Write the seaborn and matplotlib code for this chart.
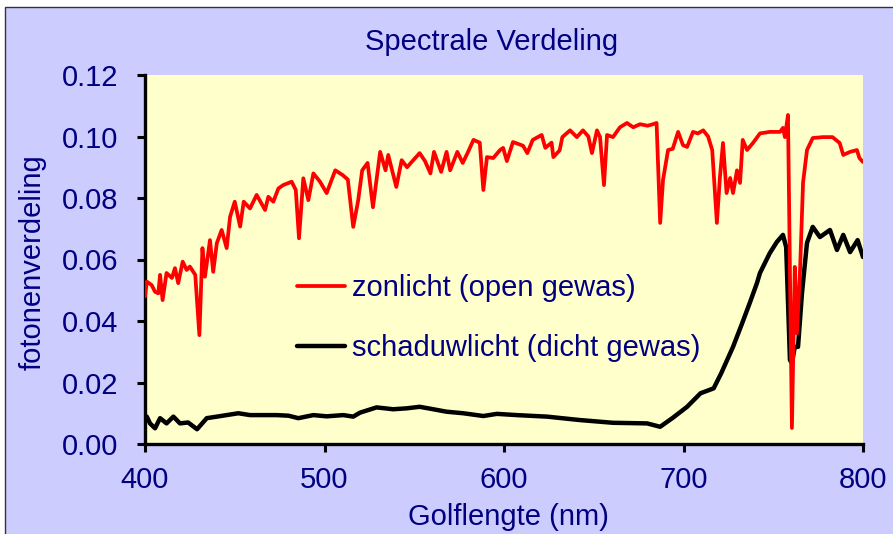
import matplotlib
matplotlib.use("Agg")
import matplotlib.pyplot as plt
import seaborn as sns
import pandas as pd
from matplotlib.patches import Rectangle

# ---- data ----
zon_nm = [400, 401, 403.7, 405.6, 407.4, 408.4, 409.8, 412, 415, 416.7, 418.5, 421, 423.2, 425, 428,
          430.3, 432, 433.4, 436.2, 438, 440, 442.7, 445.5, 447.4, 450, 453, 455, 458.5, 462.2, 466.9,
          468.7, 471.5, 474.3, 477, 481.7, 484, 485.8, 488.2, 491, 493.8, 497.5, 501.2, 506, 510, 513,
          516, 518.7, 521, 524, 527, 531, 534, 535.5, 540, 543, 546, 549, 553, 556, 559, 561, 565, 568,
          570, 574, 577, 580, 583, 586.5, 588.5, 590.5, 594, 597.8, 599.5, 601.6, 605, 610.6, 613, 616,
          621, 623, 626.5, 627.5, 631, 632.5, 636.8, 640.6, 644, 647, 649, 651.8, 653.5, 655.7, 657.4,
          660.7, 664.6, 668.5, 672, 675.8, 680, 683, 685, 687, 688.6, 691.4, 694, 697, 699.7, 702, 705.3,
          708, 711, 713.7, 716, 718.6, 720.3, 722, 724, 726, 727.6, 729.8, 731.5, 733, 735.4, 738.7,
          742.6, 748, 753.8, 755.4, 756.5, 758.2, 760.4, 762, 763.2, 765, 766.6, 768.8, 772, 777.7, 783,
          787, 789, 792.8, 796.6, 798, 800]
zon_val = [0.048, 0.0528, 0.0517, 0.0495, 0.049, 0.055, 0.0468, 0.0556, 0.054, 0.0572, 0.0523, 0.0593,
           0.0566, 0.0577, 0.055, 0.0354, 0.0637, 0.0544, 0.0663, 0.056, 0.0653, 0.0696, 0.0637, 0.0739,
           0.0788, 0.0707, 0.0788, 0.0766, 0.081, 0.0761, 0.0804, 0.0788, 0.0831, 0.0842, 0.0853, 0.0826,
           0.0669, 0.0864, 0.0793, 0.088, 0.0853, 0.0816, 0.089, 0.0875, 0.086, 0.0706, 0.079, 0.089,
           0.0914, 0.077, 0.095, 0.089, 0.094, 0.0836, 0.0923, 0.090, 0.092, 0.0946, 0.092, 0.088, 0.095,
           0.0885, 0.095, 0.089, 0.095, 0.0914, 0.095, 0.0989, 0.098, 0.0826, 0.0933, 0.093, 0.0956,
           0.0963, 0.092, 0.0982, 0.097, 0.0946, 0.0989, 0.1005, 0.0963, 0.098, 0.0933, 0.0955, 0.0998,
           0.102, 0.0998, 0.102, 0.100, 0.0946, 0.102, 0.0998, 0.0842, 0.1005, 0.0998, 0.103, 0.1044,
           0.103, 0.104, 0.1035, 0.104, 0.1044, 0.0719, 0.0859, 0.0956, 0.096, 0.1015, 0.0972, 0.0966,
           0.1015, 0.101, 0.102, 0.100, 0.0956, 0.0719, 0.0868, 0.0979, 0.0816, 0.0865, 0.0816, 0.089,
           0.0849, 0.0989, 0.0956, 0.0979, 0.101, 0.1015, 0.1015, 0.1028, 0.0998, 0.107, 0.0052, 0.0576,
           0.036, 0.0576, 0.085, 0.0956, 0.0995, 0.0998, 0.0998, 0.0979, 0.094, 0.095, 0.0956, 0.093,
           0.0917]

schaduw_nm = [400, 401, 402.8, 405.6, 408.4, 412, 415.8, 419.5, 424, 429, 434.4, 440, 445.5, 452, 458.5,
              466, 473.4, 480, 485.4, 493.8, 501.2, 510.5, 516, 519.8, 529, 538.3, 545.8, 553, 560.6, 568,
              577.3, 588.5, 596, 607, 624, 642, 660.7, 679.7, 687, 694, 702, 709.5, 716.8, 721, 727.6,
              732.5, 737, 740.9, 742.6, 748, 752, 755.4, 757.2, 759.3, 760.4, 762, 763.8, 766, 768.8, 772,
              776, 781.6, 785.5, 789, 792.8, 797, 800]
schaduw_val = [0.0075, 0.0089, 0.0067, 0.0051, 0.0084, 0.0067, 0.0089, 0.0067, 0.007, 0.0048, 0.0084,
               0.0089, 0.0094, 0.010, 0.0094, 0.0094, 0.0094, 0.0092, 0.0084, 0.0094, 0.009, 0.0094, 0.0089,
               0.0102, 0.0119, 0.0113, 0.0116, 0.0121, 0.0113, 0.0105, 0.010, 0.0091, 0.0098, 0.0094,
               0.0089, 0.0078, 0.0069, 0.0067, 0.0056, 0.0085, 0.0121, 0.0165, 0.0181, 0.023, 0.0316,
               0.039, 0.046, 0.0523, 0.0556, 0.062, 0.0657, 0.068, 0.064, 0.0273, 0.0263, 0.0316, 0.0316,
               0.049, 0.0654, 0.0706, 0.0673, 0.0696, 0.0631, 0.068, 0.0624, 0.0663, 0.0608]

labels = ["zonlicht (open gewas)", "schaduwlicht (dicht gewas)"]
x_ticks = [400, 500, 600, 700, 800]
y_ticks = [0.00, 0.02, 0.04, 0.06, 0.08, 0.10, 0.12]
title = "Spectrale Verdeling"
xlabel = "Golflengte (nm)"
ylabel = "fotonenverdeling"

# ---- styling ----
sns.set_style("ticks")
plt.rcParams['font.family'] = ['Liberation Sans', 'DejaVu Sans']
navy = "#000080"
FS = 21

W, H = 893, 534
fig = plt.figure(figsize=(W / 100, H / 100), dpi=100)
fig.patch.set_facecolor("white")
bg = Rectangle((5 / W, -0.01), 1.0, 1 - 7 / H + 0.01, transform=fig.transFigure,
               facecolor="#CCCCFF", edgecolor="#333333", linewidth=1.0, zorder=-10)
fig.add_artist(bg)

ax = fig.add_axes([145 / W, 1 - 444 / H, (863 - 145) / W, (444 - 75) / H])
ax.set_zorder(1)
ax.set_facecolor("#FFFFCC")

df_zon = pd.DataFrame({"nm": zon_nm, "val": zon_val})
df_sch = pd.DataFrame({"nm": schaduw_nm, "val": schaduw_val})
sns.lineplot(data=df_zon, x="nm", y="val", ax=ax, color="#FF0000", linewidth=2.7,
             label=labels[0], zorder=3)
sns.lineplot(data=df_sch, x="nm", y="val", ax=ax, color="black", linewidth=3.2,
             label=labels[1], zorder=2)

ax.set_xlim(400, 800)
ax.set_ylim(0, 0.12)
ax.set_xticks(x_ticks)
ax.set_yticks(y_ticks)
ax.set_xticklabels([str(t) for t in x_ticks])
ax.set_yticklabels([f"{t:.2f}" for t in y_ticks])
ax.tick_params(axis="both", direction="out", length=6, width=2.2, color="black",
               labelcolor=navy, labelsize=FS)
ax.tick_params(axis="y", pad=13)
ax.tick_params(axis="x", pad=10)
for s in ["top", "right"]:
    ax.spines[s].set_visible(False)
for s in ["left", "bottom"]:
    ax.spines[s].set_linewidth(2.4)
    ax.spines[s].set_color("black")
ax.set_xlabel("")
ax.set_ylabel("")

leg = ax.legend(loc="upper left", bbox_to_anchor=((297 - 145) / 718, (444 - 274) / 369),
                frameon=False, fontsize=FS, handlelength=1.65, handletextpad=0.25,
                labelspacing=1.1, borderpad=0, borderaxespad=0)
for t in leg.get_texts():
    t.set_color(navy)

fig.text(491.5 / W, 1 - 42 / H, title, ha="center", va="center", color=navy, fontsize=FS)
fig.text(508 / W, 1 - 517 / H, xlabel, ha="center", va="center", color=navy, fontsize=FS)
fig.text(33 / W, 1 - 262 / H, ylabel, ha="center", va="center", rotation=90, color=navy, fontsize=FS)

fig.savefig("out.png", dpi=100, facecolor=fig.get_facecolor())
